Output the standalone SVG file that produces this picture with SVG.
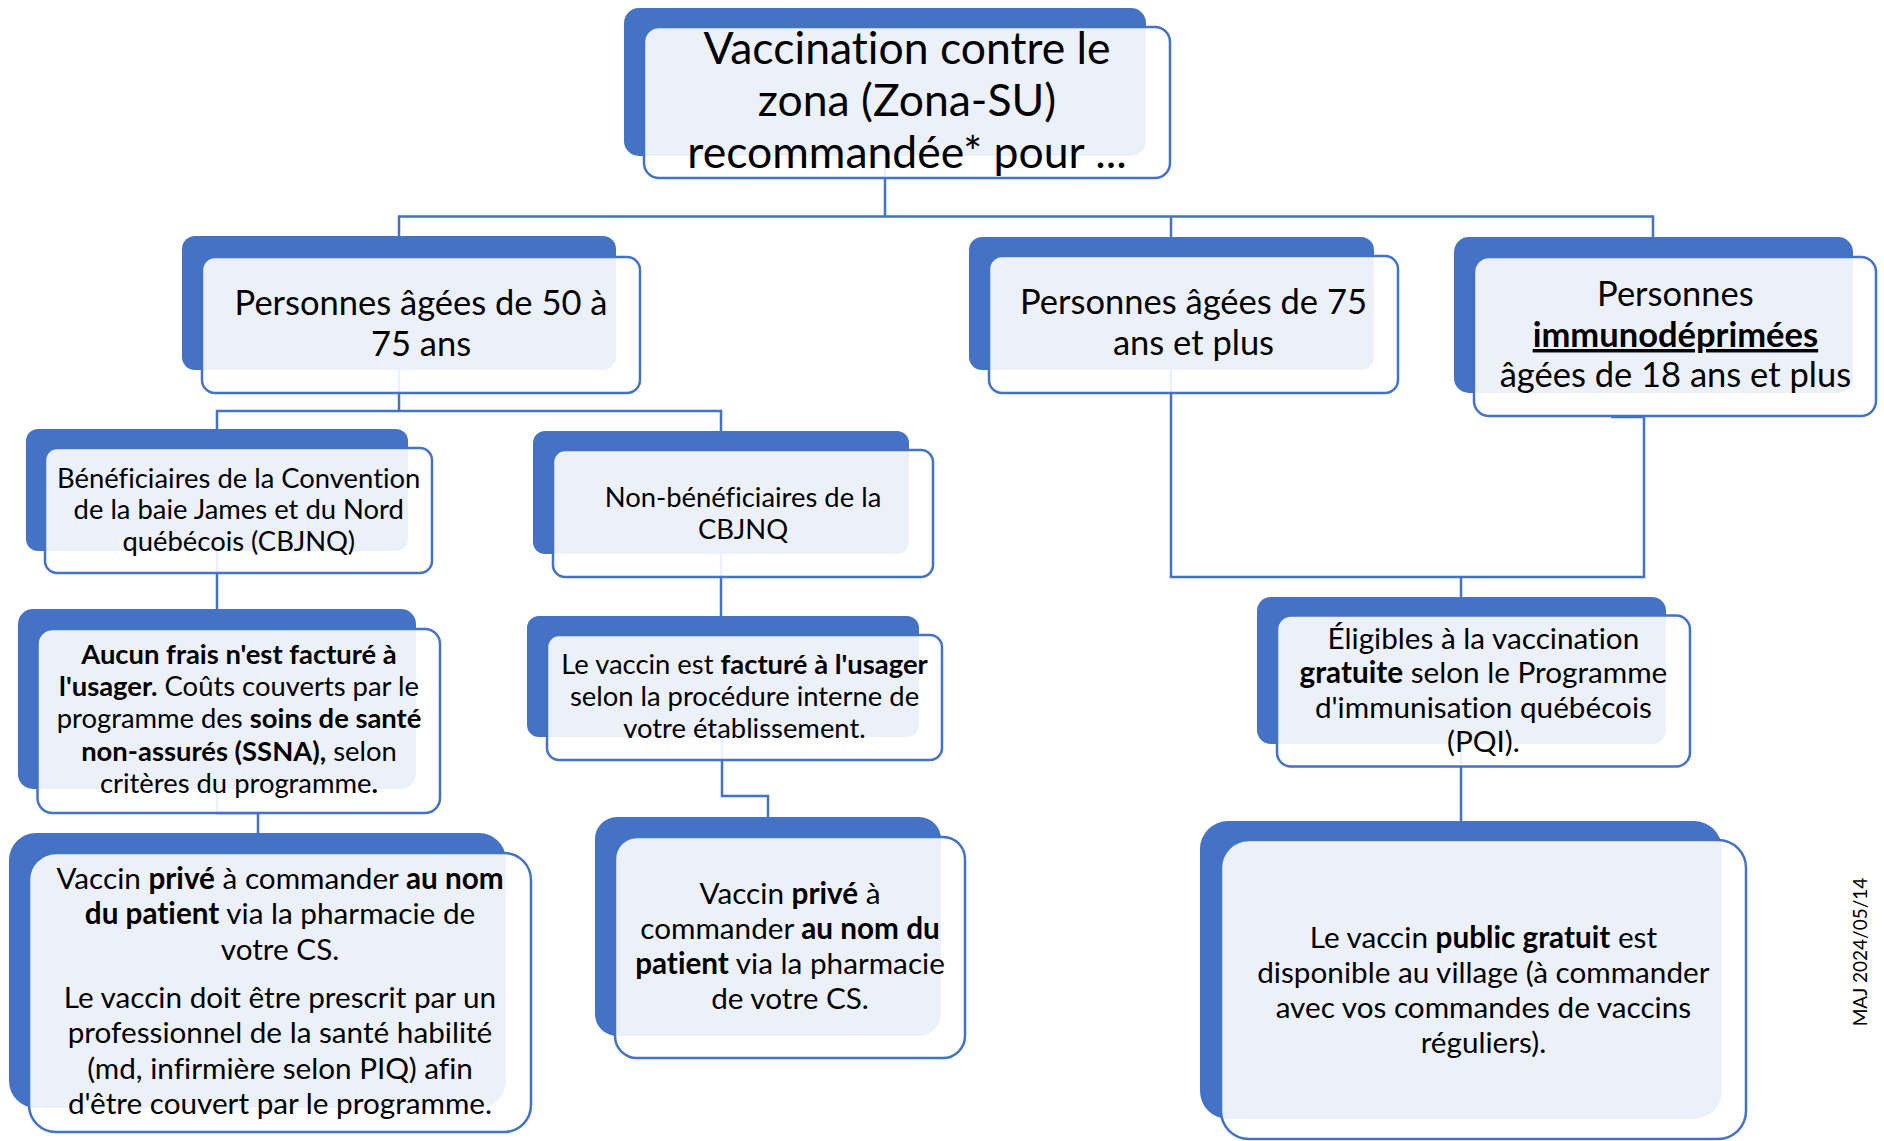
<svg xmlns="http://www.w3.org/2000/svg" width="1884" height="1141" viewBox="0 0 1884 1141">
<style>
.bk{fill:#4472C4}
.fr{fill:#FFFFFF;fill-opacity:0.9;stroke:#4472C4;stroke-width:2.5}
.cn{fill:none;stroke:#4472C4;stroke-width:2.5}
text{font-family:Lato,"Open Sans","Liberation Sans",sans-serif;fill:#000;text-anchor:middle;font-variant-ligatures:none;font-feature-settings:"liga" 0}
.t0{font-size:44.5px}
.t1{font-size:34.5px}
.t2{font-size:27.4px}
.t3{font-size:29.7px}
.b{font-weight:bold}
</style>
<rect width="1884" height="1141" fill="#FFFFFF"/>
<g id="connectors">
<path class="cn" d="M885,156 V216.5"/>
<path class="cn" d="M399,236 V216.5 H1653 V237"/>
<path class="cn" d="M1171,216.5 V237"/>
<path class="cn" d="M399,370 V411"/>
<path class="cn" d="M217,429 V411 H721 V431"/>
<path class="cn" d="M217,551 V609"/>
<path class="cn" d="M217,789 V813 H258 V833"/>
<path class="cn" d="M721,554 V616"/>
<path class="cn" d="M722,737 V796 H768 V817"/>
<path class="cn" d="M1171,370 V577 H1644 V417 H1611"/>
<path class="cn" d="M1461,577 V597"/>
<path class="cn" d="M1461,744 V821"/>
</g>
<g id="title">
<rect class="bk" x="624" y="8" width="522" height="148" rx="15"/>
<rect class="fr" x="644" y="27" width="526" height="151" rx="15"/>
<text class="t0"><tspan x="907" y="64">Vaccination contre le</tspan><tspan x="907" y="116">zona (Zona-SU)</tspan><tspan x="907" y="168">recommandée* pour ...</tspan></text>
</g>
<g id="n50">
<rect class="bk" x="182" y="236" width="434" height="134" rx="13"/>
<rect class="fr" x="202" y="257" width="438" height="136" rx="13"/>
<text class="t1"><tspan x="421" y="315">Personnes âgées de 50 à</tspan><tspan x="421" y="356">75 ans</tspan></text>
</g>
<g id="n75">
<rect class="bk" x="969" y="237" width="405" height="133" rx="13"/>
<rect class="fr" x="989" y="256" width="409" height="137" rx="13"/>
<text class="t1"><tspan x="1193.5" y="314">Personnes âgées de 75</tspan><tspan x="1193.5" y="355">ans et plus</tspan></text>
</g>
<g id="nimm">
<rect class="bk" x="1454" y="237" width="399" height="156" rx="15"/>
<rect class="fr" x="1474" y="257" width="402" height="159" rx="15"/>
<text class="t1"><tspan x="1675.4" y="306">Personnes</tspan><tspan x="1675.4" y="347" class="b" text-decoration="underline">immunodéprimées</tspan><tspan x="1675.4" y="387">âgées de 18 ans et plus</tspan></text>
</g>
<g id="nben">
<rect class="bk" x="26" y="429" width="382" height="122" rx="12"/>
<rect class="fr" x="45" y="448" width="387" height="125" rx="12"/>
<text class="t2"><tspan x="238.7" y="487.5">Bénéficiaires de la Convention</tspan><tspan x="238.7" y="519">de la baie James et du Nord</tspan><tspan x="238.7" y="550.5">québécois (CBJNQ)</tspan></text>
</g>
<g id="nnon">
<rect class="bk" x="533" y="431" width="376" height="123" rx="12"/>
<rect class="fr" x="553" y="450" width="380" height="127" rx="12"/>
<text class="t2"><tspan x="743" y="506.5">Non-bénéficiaires de la</tspan><tspan x="743" y="538.5">CBJNQ</tspan></text>
</g>
<g id="naucun">
<rect class="bk" x="18" y="609" width="398" height="180" rx="15"/>
<rect class="fr" x="37.5" y="629" width="402.5" height="184" rx="15"/>
<text class="t2"><tspan x="239" y="663.5" class="b">Aucun frais n'est facturé à</tspan><tspan x="239" y="695.5"><tspan class="b">l'usager.</tspan> Coûts couverts par le</tspan><tspan x="239" y="728">programme des <tspan class="b">soins de santé</tspan></tspan><tspan x="239" y="760.5"><tspan class="b">non-assurés (SSNA),</tspan> selon</tspan><tspan x="239" y="792.5">critères du programme<tspan class="b">.</tspan></tspan></text>
</g>
<g id="nfact">
<rect class="bk" x="527" y="616" width="392" height="121" rx="12"/>
<rect class="fr" x="547" y="635" width="395" height="125" rx="12"/>
<text class="t2"><tspan x="744.5" y="673.5">Le vaccin est <tspan class="b">facturé à l'usager</tspan></tspan><tspan x="744.5" y="705.5">selon la procédure interne de</tspan><tspan x="744.5" y="737.5">votre établissement.</tspan></text>
</g>
<g id="nprivl">
<rect class="bk" x="9" y="833" width="497" height="275" rx="27"/>
<rect class="fr" x="29" y="853" width="502" height="279" rx="27"/>
<text class="t3"><tspan x="280" y="889">Vaccin <tspan class="b">privé</tspan> à commander <tspan class="b">au nom</tspan></tspan><tspan x="280" y="924"><tspan class="b">du patient</tspan> via la pharmacie de</tspan><tspan x="280" y="960">votre CS.</tspan><tspan x="280" y="1008">Le vaccin doit être prescrit par un</tspan><tspan x="280" y="1043">professionnel de la santé habilité</tspan><tspan x="280" y="1079">(md, infirmière selon PIQ) afin</tspan><tspan x="280" y="1114">d'être couvert par le programme.</tspan></text>
</g>
<g id="nprivm">
<rect class="bk" x="595" y="817" width="346" height="219" rx="22"/>
<rect class="fr" x="615" y="837" width="350" height="221" rx="22"/>
<text class="t3"><tspan x="790" y="904">Vaccin <tspan class="b">privé</tspan> à</tspan><tspan x="790" y="939">commander <tspan class="b">au nom du</tspan></tspan><tspan x="790" y="974"><tspan class="b">patient</tspan> via la pharmacie</tspan><tspan x="790" y="1009">de votre CS.</tspan></text>
</g>
<g id="nelig">
<rect class="bk" x="1257" y="597" width="409" height="147" rx="14"/>
<rect class="fr" x="1277" y="615.5" width="413" height="151" rx="14"/>
<text class="t3"><tspan x="1483.4" y="649">Éligibles à la vaccination</tspan><tspan x="1483.4" y="683"><tspan class="b">gratuite</tspan> selon le Programme</tspan><tspan x="1483.4" y="718">d'immunisation québécois</tspan><tspan x="1483.4" y="752">(PQI).</tspan></text>
</g>
<g id="npub">
<rect class="bk" x="1200" y="821" width="522" height="298" rx="28"/>
<rect class="fr" x="1221" y="840" width="525" height="299" rx="28"/>
<text class="t3"><tspan x="1483.4" y="948">Le vaccin <tspan class="b">public gratuit</tspan> est</tspan><tspan x="1483.4" y="983">disponible au village (à commander</tspan><tspan x="1483.4" y="1018">avec vos commandes de vaccins</tspan><tspan x="1483.4" y="1053">réguliers).</tspan></text>
</g>
<g id="maj">
<text font-size="19" transform="translate(1867,952) rotate(-90)" x="0" y="0">MAJ 2024/05/14</text>
</g>
</svg>
